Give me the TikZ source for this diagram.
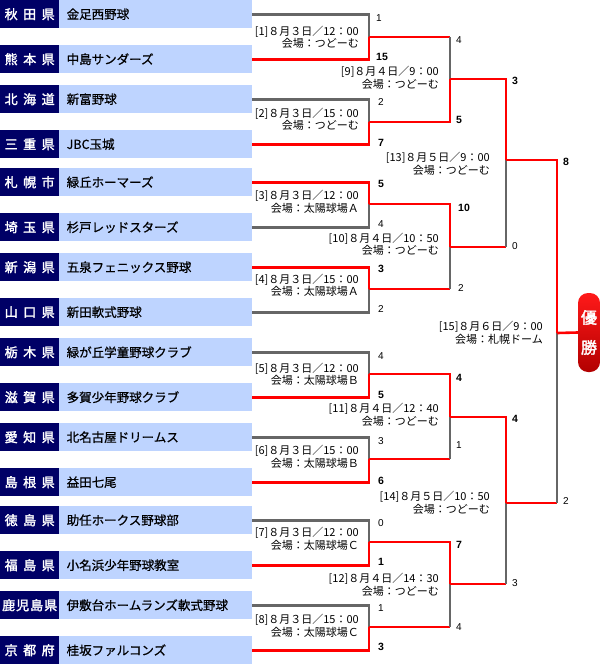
\documentclass[tikz,border=0pt]{standalone}
\usepackage{fontspec}
\newfontfamily\jp{Noto Sans CJK JP}[AutoFakeBold=2]
\newfontfamily\jpm{Noto Sans CJK JP}[FakeBold=0.7]
\newfontfamily\numf{Liberation Sans}
\newcommand\pgap{\hspace{5.5pt}}
\newcommand\qgap{\hspace{1pt}}
\definecolor{navy}{RGB}{0,0,102}
\definecolor{lblue}{RGB}{190,212,255}
\definecolor{lgray}{RGB}{102,102,102}
\definecolor{bred}{RGB}{255,0,0}
\begin{document}
\begin{tikzpicture}[x=1pt,y=-1pt,
 pref/.style={fill=navy,text=white,minimum width=59pt,minimum height=28pt,inner sep=0pt,anchor=north west,font=\jp\fontsize{13}{13}\selectfont\bfseries},
 team/.style={fill=lblue,text=black,minimum height=28pt,inner xsep=7.5pt,inner ysep=0pt,text width=178pt,align=left,anchor=north west,font=\jpm\fontsize{12.5}{13}\selectfont},
 win/.style={draw=bred,line width=2.6pt},
 lose/.style={draw=lgray,line width=2.6pt},
 sc/.style={anchor=west,inner sep=0pt,font=\numf\fontsize{10}{10}\selectfont},
 wsc/.style={anchor=west,inner sep=0pt,font=\numf\fontsize{10.5}{10}\selectfont\bfseries},
 lbl/.style={anchor=east,align=right,inner sep=0pt,font=\jp\fontsize{11}{12.5}\selectfont},
 badge/.style={rounded corners=10pt,minimum width=22pt,minimum height=79pt,inner sep=0pt,top color=red!90!white,bottom color=red!70!black,text=white,align=center,font=\jp\fontsize{16}{30}\selectfont\bfseries}
]
\fill[white] (0,0) rectangle (600,664);
\useasboundingbox (0,0) rectangle (600,664);

% team rows
\foreach \i/\tp/\pr/\tm in {
 1/0/{秋\pgap 田\pgap 県}/金足西野球,
 2/45/{熊\pgap 本\pgap 県}/中島サンダーズ,
 3/85/{北\pgap 海\pgap 道}/新富野球,
 4/130/{三\pgap 重\pgap 県}/JBC玉城,
 5/168/{札\pgap 幌\pgap 市}/緑丘ホーマーズ,
 6/213/{埼\pgap 玉\pgap 県}/杉戸レッドスターズ,
 7/253/{新\pgap 潟\pgap 県}/五泉フェニックス野球,
 8/298/{山\pgap 口\pgap 県}/新田軟式野球,
 9/338/{栃\pgap 木\pgap 県}/緑が丘学童野球クラブ,
 10/383/{滋\pgap 賀\pgap 県}/多賀少年野球クラブ,
 11/423/{愛\pgap 知\pgap 県}/北名古屋ドリームス,
 12/468/{島\pgap 根\pgap 県}/益田七尾,
 13/506/{徳\pgap 島\pgap 県}/助任ホークス野球部,
 14/551/{福\pgap 島\pgap 県}/小名浜少年野球教室,
 15/591/{鹿\qgap 児\qgap 島\qgap 県}/伊敷台ホームランズ軟式野球,
 16/636/{京\pgap 都\pgap 府}/桂坂ファルコンズ}
{
 \node[pref] (p\i) at (0,\tp) {\pr};
 \node[team] (t\i) at (59,\tp) {\tm};
}

% match points
\coordinate (m1) at (369,37);
\coordinate (m2) at (369,122);
\coordinate (m3) at (369,204);
\coordinate (m4) at (369,289);
\coordinate (m5) at (369,374);
\coordinate (m6) at (369,459);
\coordinate (m7) at (369,542);
\coordinate (m8) at (369,627);
\coordinate (m9) at (450,79);
\coordinate (m10) at (450,247);
\coordinate (m11) at (450,417);
\coordinate (m12) at (450,584);
\coordinate (m13) at (506,160);
\coordinate (m14) at (506,503);
\coordinate (mf) at (557,333);

\node[badge] (yusho) at (589,332.5) {優\\勝};

% first round
\draw[lose] (t1.east) -| (m1);  \draw[win] (t2.east) -| (m1);
\draw[lose] (t3.east) -| (m2);  \draw[win] (t4.east) -| (m2);
\draw[lose] (t6.east) -| (m3);  \draw[win] (t5.east) -| (m3);
\draw[lose] (t8.east) -| (m4);  \draw[win] (t7.east) -| (m4);
\draw[lose] (t9.east) -| (m5);  \draw[win] (t10.east) -| (m5);
\draw[lose] (t11.east) -| (m6); \draw[win] (t12.east) -| (m6);
\draw[lose] (t13.east) -| (m7); \draw[win] (t14.east) -| (m7);
\draw[lose] (t15.east) -| (m8); \draw[win] (t16.east) -| (m8);

% second round
\draw[win] (m1) -- (m1 -| m9); \draw[lose] (m1 -| m9) -- (m9); \draw[win] (m2) -| (m9);
\draw[win] (m4) -- (m4 -| m10); \draw[lose] (m4 -| m10) -- (m10); \draw[win] (m3) -| (m10);
\draw[win] (m6) -- (m6 -| m11); \draw[lose] (m6 -| m11) -- (m11); \draw[win] (m5) -| (m11);
\draw[win] (m8) -- (m8 -| m12); \draw[lose] (m8 -| m12) -- (m12); \draw[win] (m7) -| (m12);

% third round
\draw[win] (m10) -- (m10 -| m13); \draw[lose] (m10 -| m13) -- (m13); \draw[win] (m9) -| (m13);
\draw[win] (m12) -- (m12 -| m14); \draw[lose] (m12 -| m14) -- (m14); \draw[win] (m11) -| (m14);

% final
\draw[win] (m14) -- (m14 -| mf); \draw[lose] (m14 -| mf) -- (mf); \draw[win] (m13) -| (mf);
\draw[win] (mf) -- (yusho.west);

% scores round 1
\node[sc]  (s1a) at (376,18) {1};   \node[wsc] (s1b) at (376,57) {15};
\node[sc]  (s2a) at (378,102) {2};  \node[wsc] (s2b) at (378,143) {7};
\node[wsc] (s3a) at (378,184) {5};  \node[sc]  (s3b) at (378,224) {4};
\node[wsc] (s4a) at (378,269) {3};  \node[sc]  (s4b) at (378,309) {2};
\node[sc]  (s5a) at (378,356) {4};  \node[wsc] (s5b) at (378,395) {5};
\node[sc]  (s6a) at (378,441) {3};  \node[wsc] (s6b) at (378,481) {6};
\node[sc]  (s7a) at (378,523) {0};  \node[wsc] (s7b) at (378,562) {1};
\node[sc]  (s8a) at (378,608) {1};  \node[wsc] (s8b) at (378,647) {3};
% round 2
\node[sc]  (s9a) at (456,40) {4};   \node[wsc] (s9b) at (456,120) {5};
\node[wsc] (s10a) at (458,208) {10}; \node[sc] (s10b) at (458,288) {2};
\node[wsc] (s11a) at (456,378) {4}; \node[sc]  (s11b) at (456,445) {1};
\node[wsc] (s12a) at (456,545) {7}; \node[sc]  (s12b) at (456,627) {4};
% round 3
\node[wsc] (s13a) at (512,81) {3};  \node[sc]  (s13b) at (512,246) {0};
\node[wsc] (s14a) at (512,419) {4}; \node[sc]  (s14b) at (512,583) {3};
% final
\node[wsc] (sfa) at (563,162) {8};  \node[sc]  (sfb) at (563,501) {2};

% match labels
\node[lbl] (l1) at (359,37.5) {[1]８月３日／12：00\\会場：つどーむ};
\node[lbl] (l2) at (359,119.5) {[2]８月３日／15：00\\会場：つどーむ};
\node[lbl] (l3) at (359,202) {[3]８月３日／12：00\\会場：太陽球場Ａ};
\node[lbl] (l4) at (359,285.5) {[4]８月３日／15：00\\会場：太陽球場Ａ};
\node[lbl] (l5) at (359,374.5) {[5]８月３日／12：00\\会場：太陽球場Ｂ};
\node[lbl] (l6) at (359,457) {[6]８月３日／15：00\\会場：太陽球場Ｂ};
\node[lbl] (l7) at (359,539) {[7]８月３日／12：00\\会場：太陽球場Ｃ};
\node[lbl] (l8) at (359,626) {[8]８月３日／15：00\\会場：太陽球場Ｃ};
\node[lbl] (l9) at (439,78) {[9]８月４日／9：00\\会場：つどーむ};
\node[lbl] (l10) at (439,244.5) {[10]８月４日／10：50\\会場：つどーむ};
\node[lbl] (l11) at (439,415) {[11]８月４日／12：40\\会場：つどーむ};
\node[lbl] (l12) at (439,585) {[12]８月４日／14：30\\会場：つどーむ};
\node[lbl] (l13) at (490,164) {[13]８月５日／9：00\\会場：つどーむ};
\node[lbl] (l14) at (490,503) {[14]８月５日／10：50\\会場：つどーむ};
\node[lbl] (l15) at (543,333) {[15]８月６日／9：00\\会場：札幌ドーム};
\end{tikzpicture}
\end{document}
